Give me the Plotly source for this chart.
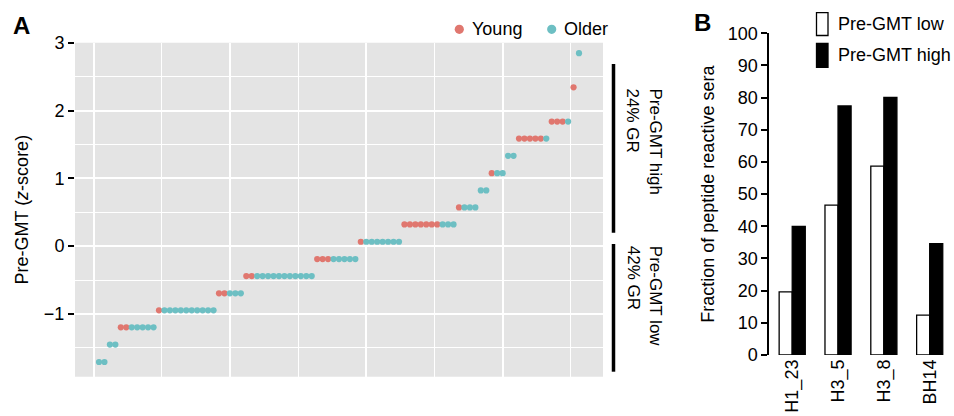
import numpy as np
import plotly.graph_objects as go

# ---------------- Panel A data ----------------
z_levels = [-1.708, -1.452, -1.197, -0.946, -0.696, -0.441, -0.191, 0.065, 0.320,
            0.571, 0.821, 1.076, 1.332, 1.587, 1.837, 2.342, 2.846]
young_counts = [0, 0, 2, 1, 2, 2, 3, 1, 7, 1, 0, 1, 0, 5, 3, 1, 0]
older_counts = [2, 2, 5, 10, 3, 11, 5, 7, 3, 3, 2, 2, 2, 1, 1, 0, 1]
group_names = ["Young", "Older"]
group_colors = ["#E0776F", "#6DBFC3"]

# ---------------- Panel B data ----------------
peptides = ["H1_23", "H3_5", "H3_8", "BH14"]
frac_low = [19.6, 46.6, 58.7, 12.4]
frac_high = [40.0, 77.4, 80.1, 34.6]
bar_names = ["Pre-GMT low", "Pre-GMT high"]

FONT = "Liberation Sans, Arial, Helvetica, sans-serif"
W, H = 954, 416

# rank points: within each level young first, then older
yx, yy, ox, oy = [], [], [], []
rank = 0
for z, ny, no in zip(z_levels, young_counts, older_counts):
    for _ in range(ny):
        rank += 1
        yx.append(rank); yy.append(z)
    for _ in range(no):
        rank += 1
        ox.append(rank); oy.append(z)

fig = go.Figure()
fig.add_trace(go.Scatter(x=yx, y=yy, mode="markers", name=group_names[0],
                         marker=dict(color=group_colors[0], size=6.2, line=dict(width=0)),
                         xaxis="x", yaxis="y", showlegend=False))
fig.add_trace(go.Scatter(x=ox, y=oy, mode="markers", name=group_names[1],
                         marker=dict(color=group_colors[1], size=6.2, line=dict(width=0)),
                         xaxis="x", yaxis="y", showlegend=False))

fig.add_trace(go.Bar(x=peptides, y=frac_low, name=bar_names[0],
                     marker=dict(color="white", line=dict(color="black", width=1.3)),
                     xaxis="x2", yaxis="y2", showlegend=False))
fig.add_trace(go.Bar(x=peptides, y=frac_high, name=bar_names[1],
                     marker=dict(color="black", line=dict(color="black", width=1.3)),
                     xaxis="x2", yaxis="y2", showlegend=False))

def px_x(p):
    return p / W

def px_y(p):
    return 1 - p / H

tickfont = dict(family=FONT, size=18, color="black")

fig.update_layout(
    width=W, height=H,
    margin=dict(l=0, r=0, t=0, b=0, autoexpand=False),
    paper_bgcolor="white", plot_bgcolor="white",
    font=dict(family=FONT, size=18, color="black"),
    barmode="group", bargap=0.43, bargroupgap=0,
    xaxis=dict(domain=[px_x(75), px_x(603)], range=[-3.4, 93.4], automargin=False,
               showticklabels=False, ticks="", showline=False, zeroline=False,
               tick0=0, dtick=25, showgrid=True, gridcolor="white", gridwidth=1.8,
               minor=dict(tick0=0, dtick=12.5, showgrid=True, gridcolor="white", gridwidth=0.9)),
    yaxis=dict(domain=[px_y(376.7), px_y(42.7)], range=[-1.925, 3.0], automargin=False,
               tick0=0, dtick=1, ticks="outside", ticklen=6, tickwidth=2, tickcolor="black",
               tickfont=tickfont, showline=False, zeroline=False,
               showgrid=True, gridcolor="white", gridwidth=1.8,
               minor=dict(tick0=0, dtick=0.5, showgrid=True, gridcolor="white", gridwidth=0.9),
               title=dict(text="Pre-GMT (<i>z</i>-score)", font=dict(family=FONT, size=18),
                          standoff=10)),
    xaxis2=dict(domain=[px_x(769.3), px_x(952.6)], range=[-0.5, 3.5], automargin=False,
                anchor="y2", ticks="", showline=False, showgrid=False, zeroline=False,
                tickangle=-90, tickfont=tickfont),
    yaxis2=dict(domain=[px_y(355), px_y(33.3)], range=[0, 100], anchor="x2", automargin=False,
                tick0=0, dtick=10, ticks="outside", ticklen=6, tickwidth=2, tickcolor="black",
                showline=True, linecolor="black", linewidth=2, showgrid=False, zeroline=False,
                tickfont=tickfont,
                title=dict(text="Fraction of peptide reactive sera",
                           font=dict(family=FONT, size=18), standoff=8)),
)

shapes = []
# grey panel background for A
shapes.append(dict(type="rect", xref="x domain", yref="y domain", x0=0, x1=1, y0=0, y1=1,
                   fillcolor="#E4E4E4", line=dict(width=0), layer="below"))
# group bars right of panel A
shapes.append(dict(type="line", xref="paper", yref="paper", x0=px_x(613.5), x1=px_x(613.5),
                   y0=px_y(64), y1=px_y(232.7), line=dict(color="black", width=3.5)))
shapes.append(dict(type="line", xref="paper", yref="paper", x0=px_x(613.5), x1=px_x(613.5),
                   y0=px_y(244), y1=px_y(371.7), line=dict(color="black", width=3.5)))

annotations = []
# legend A (dots + text)
for cx, name, col in [(459.3, group_names[0], group_colors[0]), (551.7, group_names[1], group_colors[1])]:
    shapes.append(dict(type="circle", xref="paper", yref="paper", xsizemode="pixel", ysizemode="pixel",
                       xanchor=px_x(cx), yanchor=px_y(29.3), x0=-4.6, x1=4.6, y0=-4.6, y1=4.6,
                       fillcolor=col, line=dict(width=0)))
    annotations.append(dict(text=name, xref="paper", yref="paper", x=px_x(cx + 10.5), y=px_y(29.3),
                            xanchor="left", yanchor="middle", showarrow=False,
                            font=dict(family=FONT, size=18, color="black")))
# legend B (boxes + text)
for (y0, y1), name, col in [((12.7, 35.5), bar_names[0], "white"), ((43.3, 67.3), bar_names[1], "black")]:
    shapes.append(dict(type="rect", xref="paper", yref="paper", x0=px_x(816.5), x1=px_x(828),
                       y0=px_y(y1), y1=px_y(y0), fillcolor=col, line=dict(color="black", width=1.3)))
    annotations.append(dict(text=name, xref="paper", yref="paper", x=px_x(835.5), y=px_y((y0 + y1) / 2),
                            xanchor="left", yanchor="middle", showarrow=False,
                            font=dict(family=FONT, size=18, color="black")))
# rotated group labels
annotations.append(dict(text="Pre-GMT high<br>24% GR", xref="paper", yref="paper",
                        x=px_x(644), y=px_y(141.5), xanchor="center", yanchor="middle",
                        textangle=90, align="left", showarrow=False,
                        font=dict(family=FONT, size=17, color="black")))
annotations.append(dict(text="Pre-GMT low<br>42% GR", xref="paper", yref="paper",
                        x=px_x(644), y=px_y(295.8), xanchor="center", yanchor="middle",
                        textangle=90, align="left", showarrow=False,
                        font=dict(family=FONT, size=17, color="black")))
# panel letters
annotations.append(dict(text="<b>A</b>", xref="paper", yref="paper", x=px_x(11), y=px_y(25),
                        xanchor="left", yanchor="middle", showarrow=False,
                        font=dict(family=FONT, size=24, color="black")))
annotations.append(dict(text="<b>B</b>", xref="paper", yref="paper", x=px_x(692), y=px_y(22),
                        xanchor="left", yanchor="middle", showarrow=False,
                        font=dict(family=FONT, size=24, color="black")))

fig.update_layout(shapes=shapes, annotations=annotations)
fig.write_html("out.html")
